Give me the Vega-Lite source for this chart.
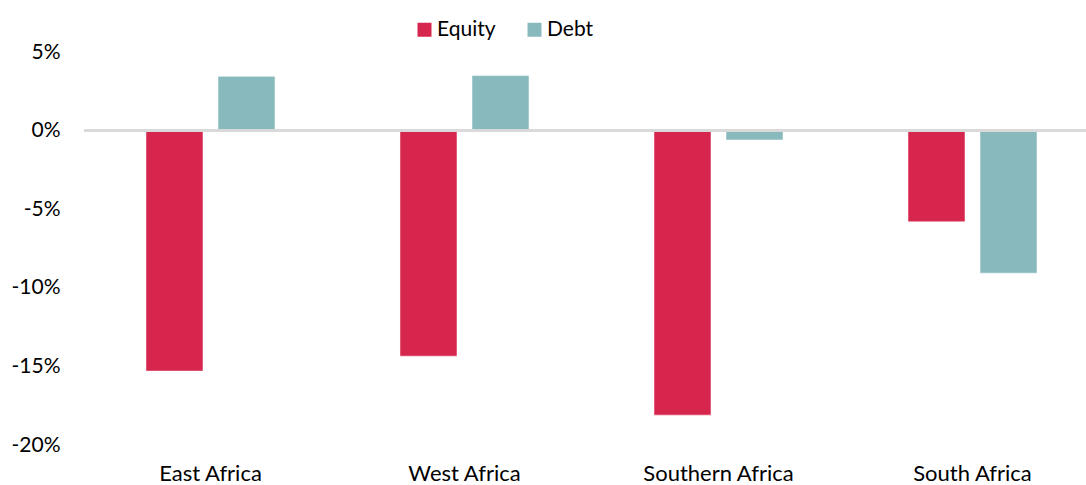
{
  "$schema": "https://vega.github.io/schema/vega-lite/v6.json",
  "autosize": {"type": "none"},
  "padding": {"left": 84, "top": 52, "right": 0, "bottom": 40},
  "width": 1015,
  "height": 393,
  "background": "white",
  "config": {
    "view": {"stroke": null},
    "font": "Lato",
    "axis": {"labelFont": "Lato", "labelColor": "#000000", "labelFontSize": 21, "grid": false, "ticks": false, "domain": false, "title": null}
  },
  "data": {
    "values": [
      {"region": "East Africa", "type": "Equity", "value": -0.153},
      {"region": "East Africa", "type": "Debt", "value": 0.0345},
      {"region": "West Africa", "type": "Equity", "value": -0.1435},
      {"region": "West Africa", "type": "Debt", "value": 0.035},
      {"region": "Southern Africa", "type": "Equity", "value": -0.181},
      {"region": "Southern Africa", "type": "Debt", "value": -0.006},
      {"region": "South Africa", "type": "Equity", "value": -0.058},
      {"region": "South Africa", "type": "Debt", "value": -0.0907}
    ]
  },
  "layer": [
    {
      "mark": {"type": "bar", "stroke": "white", "strokeWidth": 1, "strokeOpacity": 0.5},
      "encoding": {
        "x": {
          "field": "region", "type": "nominal",
          "sort": ["East Africa", "West Africa", "Southern Africa", "South Africa"],
          "scale": {"paddingInner": 0.492, "paddingOuter": 0.244},
          "axis": {"orient": "bottom", "labelAngle": 0, "labelPadding": 18, "labelFontSize": 22, "offset": 0}
        },
        "xOffset": {
          "field": "type", "type": "nominal",
          "sort": ["Equity", "Debt"],
          "scale": {"paddingInner": 0.2083, "paddingOuter": 0}
        },
        "y": {
          "field": "value", "type": "quantitative",
          "scale": {"domain": [-0.2, 0.05], "nice": false, "zero": false},
          "axis": {"format": ".0%", "labelExpr": "replace(datum.label, '−', '-')", "values": [-0.2, -0.15, -0.1, -0.05, 0, 0.05], "labelPadding": 24}
        },
        "color": {
          "field": "type", "type": "nominal",
          "sort": ["Equity", "Debt"],
          "scale": {"domain": ["Equity", "Debt"], "range": ["#d6264e", "#88babd"]},
          "legend": {
            "title": null, "orient": "none", "direction": "horizontal",
            "legendX": 330, "legendY": -33,
            "symbolType": "square", "symbolSize": 196, "symbolStrokeWidth": 0,
            "labelFontSize": 21, "labelFont": "Lato", "labelColor": "#000000",
            "columnPadding": 28, "labelOffset": 2
          }
        }
      }
    },
    {
      "mark": {"type": "rule", "color": "#d9d9d9", "strokeWidth": 2},
      "encoding": {"y": {"datum": 0, "type": "quantitative"}}
    }
  ]
}
